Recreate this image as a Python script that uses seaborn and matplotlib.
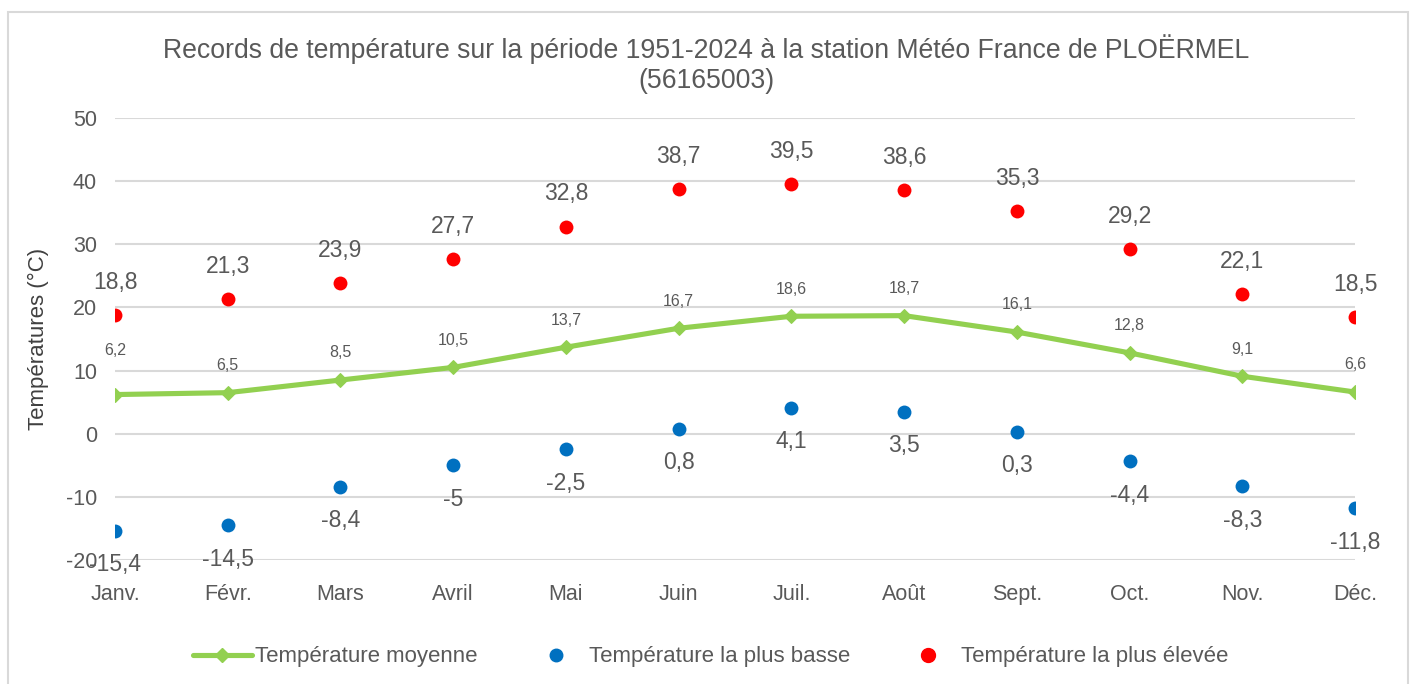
import matplotlib
matplotlib.use("Agg")
import matplotlib.pyplot as plt
from matplotlib.lines import Line2D
from matplotlib.patches import Rectangle
import numpy as np
import pandas as pd
import seaborn as sns

months = ["Janv.", "Févr.", "Mars", "Avril", "Mai", "Juin", "Juil.", "Août",
          "Sept.", "Oct.", "Nov.", "Déc."]
temp_moyenne = [6.2, 6.5, 8.5, 10.5, 13.7, 16.7, 18.6, 18.7, 16.1, 12.8, 9.1, 6.6]
temp_basse = [-15.4, -14.5, -8.4, -5, -2.5, 0.8, 4.1, 3.5, 0.3, -4.4, -8.3, -11.8]
temp_elevee = [18.8, 21.3, 23.9, 27.7, 32.8, 38.7, 39.5, 38.6, 35.3, 29.2, 22.1, 18.5]
y_ticks = [-20, -10, 0, 10, 20, 30, 40, 50]

GREEN = "#92D050"
BLUE = "#0070C0"
RED = "#FF0000"
TEXT = "#595959"
GRID = "#D9D9D9"

sns.set_theme(style="white")
plt.rcParams["font.family"] = ["Liberation Sans", "DejaVu Sans"]

df = pd.DataFrame({
    "pos": np.arange(len(months)),
    "mois": months,
    "moyenne": temp_moyenne,
    "basse": temp_basse,
    "elevee": temp_elevee,
})

fig = plt.figure(figsize=(14.13, 6.84), dpi=100)
ax = fig.add_axes([0.0814, 0.1813, 0.8776, 0.6462])

# outer chart frame
fig.patches.append(Rectangle((8 / 1413, -0.05), 1400 / 1413, 1.05 - 12 / 684,
                             transform=fig.transFigure, fill=False,
                             edgecolor="#D9D9D9", linewidth=1.5, zorder=0))

sns.lineplot(data=df, x="pos", y="moyenne", ax=ax, color=GREEN, linewidth=3.7,
             marker="D", markersize=7, markeredgecolor=GREEN, zorder=3)
sns.scatterplot(data=df, x="pos", y="basse", ax=ax, color=BLUE, s=100,
                edgecolor=BLUE, linewidth=0, zorder=4)
sns.scatterplot(data=df, x="pos", y="elevee", ax=ax, color=RED, s=100,
                edgecolor=RED, linewidth=0, zorder=4)

def fmt(v):
    return f"{v:g}".replace(".", ",")

for i in range(len(months)):
    ax.annotate(fmt(temp_elevee[i]), (i, temp_elevee[i]), xytext=(0, 23.5),
                textcoords="offset points", ha="center", va="center",
                fontsize=16.5, color=TEXT)
    ax.annotate(fmt(temp_basse[i]), (i, temp_basse[i]), xytext=(0, -24.5),
                textcoords="offset points", ha="center", va="center",
                fontsize=16.5, color=TEXT)
    # first average label sits a little higher, clear of the January marker
    dy = 32 if i == 0 else 19.5
    ax.annotate(fmt(temp_moyenne[i]), (i, temp_moyenne[i]), xytext=(0, dy),
                textcoords="offset points", ha="center", va="center",
                fontsize=11.5, color=TEXT)

ax.set_xlim(0, len(months) - 1)
ax.set_ylim(-20, 50)
ax.set_yticks(y_ticks)
ax.set_yticklabels([str(t) for t in y_ticks])
ax.set_xticks(df["pos"])
ax.set_xticklabels(months)
ax.tick_params(axis="both", length=0, labelsize=15.5, labelcolor=TEXT)
ax.tick_params(axis="y", pad=13)
ax.tick_params(axis="x", pad=17)
ax.grid(axis="y", color=GRID, linewidth=1.5)
ax.grid(axis="x", visible=False)
for sp in ax.spines.values():
    sp.set_visible(False)
ax.set_xlabel("")
ax.set_ylabel("Températures (°C)", fontsize=16, color="#404040", labelpad=12)

fig.text(0.5, 0.906, "Records de température sur la période 1951-2024 à la station Météo France de PLOËRMEL\n(56165003)",
         ha="center", va="center", fontsize=19.2, color=TEXT, linespacing=1.2)

handles = [
    Line2D([], [], color=GREEN, linewidth=3.7, marker="D", markersize=7),
    Line2D([], [], color=BLUE, linestyle="none", marker="o", markersize=9),
    Line2D([], [], color=RED, linestyle="none", marker="o", markersize=10),
]
labels = ["Température moyenne", "Température la plus basse", "Température la plus élevée"]
leg = fig.legend(handles, labels, loc="center", bbox_to_anchor=(0.503, 0.0395),
                 ncol=3, frameon=False, columnspacing=2.2, handlelength=2.65,
                 handletextpad=0.15, prop={"size": 16})
for t in leg.get_texts():
    t.set_color(TEXT)

fig.savefig("out.png", dpi=100)
